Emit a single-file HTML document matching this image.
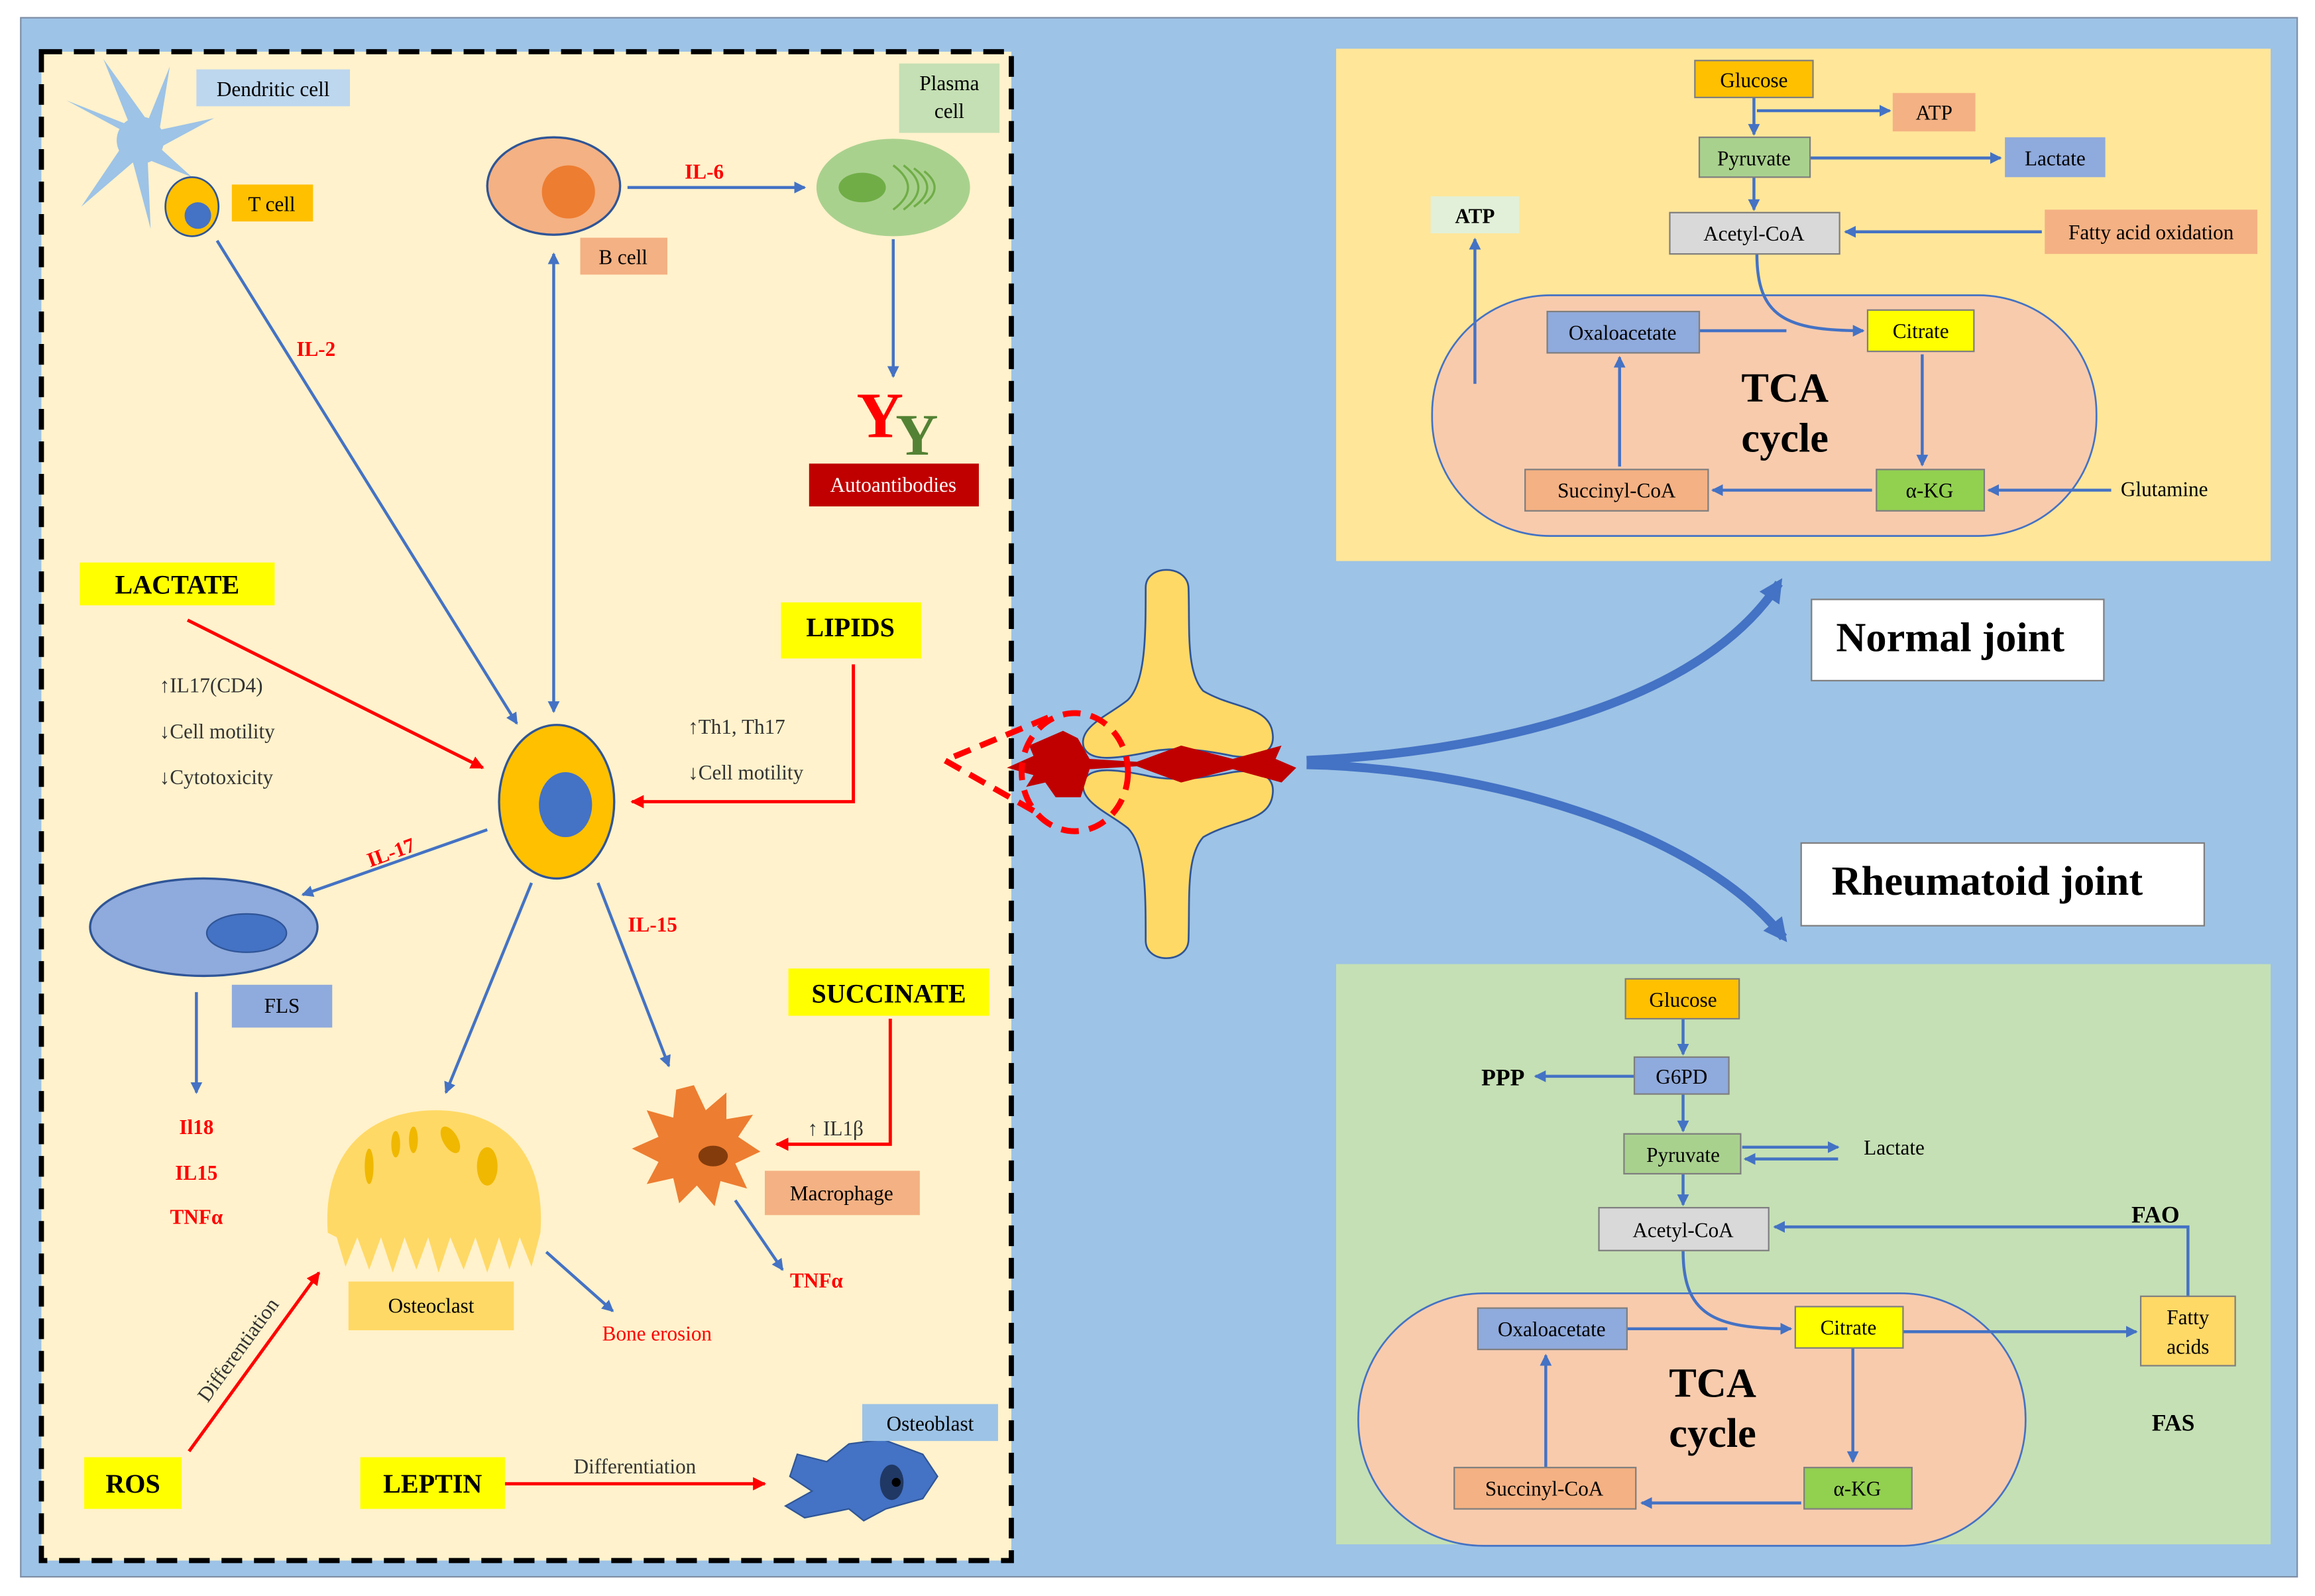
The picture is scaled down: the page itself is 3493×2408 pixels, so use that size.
<!DOCTYPE html>
<html><head><meta charset="utf-8"><style>
html,body{margin:0;padding:0;background:#fff;}
svg{display:block;}
text{font-family:"Liberation Serif",serif;}
</style></head><body>
<svg width="3493" height="2408" viewBox="0 0 1568 1081" xmlns="http://www.w3.org/2000/svg">
<defs>
<marker id="b" markerWidth="8" markerHeight="8" refX="7" refY="4" orient="auto" markerUnits="userSpaceOnUse"><path d="M0,0 L8,4 L0,8 z" fill="#4472c4"/></marker>
<marker id="bs" markerWidth="8" markerHeight="8" refX="1" refY="4" orient="auto" markerUnits="userSpaceOnUse"><path d="M8,0 L0,4 L8,8 z" fill="#4472c4"/></marker>
<marker id="r" markerWidth="9" markerHeight="9" refX="8" refY="4.5" orient="auto" markerUnits="userSpaceOnUse"><path d="M0,0 L9,4.5 L0,9 z" fill="#ff0000"/></marker>
<marker id="bb" markerWidth="16" markerHeight="16" refX="12" refY="8" orient="auto" markerUnits="userSpaceOnUse"><path d="M0,0 L16,8 L0,16 z" fill="#4472c4"/></marker>
</defs>
<rect x="0" y="0" width="1568" height="1081" fill="#fff"/>
<rect x="14" y="12" width="1542" height="1056" fill="#9dc3e6" stroke="#7f8fa6" stroke-width="1"/>
<rect x="28" y="35" width="657" height="1022" fill="#fff2cc" stroke="#000" stroke-width="3.5" stroke-dasharray="14,8"/>
<g stroke="#4472c4" stroke-width="2" fill="none">
<line x1="425" y1="127" x2="545" y2="127" marker-end="url(#b)"/>
<line x1="605" y1="162" x2="605" y2="255" marker-end="url(#b)"/>
<line x1="375" y1="172" x2="375" y2="482" marker-end="url(#b)" marker-start="url(#bs)"/>
<line x1="147" y1="163" x2="350" y2="490" marker-end="url(#b)"/>
<line x1="330" y1="562" x2="205" y2="606" marker-end="url(#b)"/>
<line x1="133" y1="672" x2="133" y2="740" marker-end="url(#b)"/>
<line x1="360" y1="598" x2="302" y2="740" marker-end="url(#b)"/>
<line x1="405" y1="598" x2="453" y2="722" marker-end="url(#b)"/>
<line x1="370" y1="848" x2="415" y2="888" marker-end="url(#b)"/>
<line x1="498" y1="813" x2="530" y2="860" marker-end="url(#b)"/>
</g>
<g stroke="#ff0000" stroke-width="2.2" fill="none">
<line x1="127" y1="420" x2="327" y2="520" marker-end="url(#r)"/>
<polyline points="578,450 578,543 428,543" marker-end="url(#r)"/>
<polyline points="603,690 603,775 526,775" marker-end="url(#r)"/>
<line x1="128" y1="983" x2="216" y2="862" marker-end="url(#r)"/>
<line x1="342" y1="1005" x2="518" y2="1005" marker-end="url(#r)"/>
</g>
<g fill="#9dc3e6">
<path d="M95,95 L45,68 L88,85 L70,40 L100,82 L115,45 L108,88 L145,80 L108,100 L130,120 L100,108 L102,155 L90,110 L55,140 L82,100 Z"/>
<circle cx="95" cy="95" r="16"/>
</g>
<ellipse cx="130" cy="140" rx="18" ry="20" fill="#ffc000" stroke="#2f5597" stroke-width="1.2"/>
<circle cx="134" cy="146" r="9" fill="#4472c4"/>
<rect x="133" y="47" width="104" height="25" fill="#bdd7ee"/><text x="185" y="65" font-size="14" text-anchor="middle">Dendritic cell</text>
<rect x="157" y="125" width="55" height="25" fill="#ffc000"/><text x="184" y="143" font-size="14" text-anchor="middle">T cell</text>
<ellipse cx="375" cy="126" rx="45" ry="33" fill="#f4b183" stroke="#2f5597" stroke-width="1.5"/>
<circle cx="385" cy="130" r="18" fill="#ed7d31"/>
<rect x="393" y="161" width="59" height="25" fill="#f4b183"/><text x="422" y="179" font-size="14" text-anchor="middle">B cell</text>
<text x="477" y="121" font-size="14" font-weight="bold" fill="#ff0000" text-anchor="middle">IL-6</text>
<ellipse cx="605" cy="127" rx="52" ry="33" fill="#a9d18e"/>
<ellipse cx="584" cy="127" rx="16" ry="10" fill="#70ad47"/>
<g stroke="#70ad47" stroke-width="1.5" fill="none"><path d="M605,112 q20,15 0,30"/><path d="M612,112 q20,15 0,30"/><path d="M619,114 q18,13 0,26"/><path d="M626,116 q14,11 0,22"/></g>
<rect x="609" y="43" width="68" height="47" fill="#c5e0b4"/><text x="643" y="61" font-size="14" text-anchor="middle">Plasma</text><text x="643" y="80" font-size="14" text-anchor="middle">cell</text>
<text x="596" y="296" font-size="44" font-weight="bold" fill="#ff0000" text-anchor="middle">Y</text>
<text x="621" y="308" font-size="40" font-weight="bold" fill="#548235" text-anchor="middle">Y</text>
<rect x="548" y="314" width="115" height="29" fill="#c00000"/><text x="605" y="333" font-size="14" fill="#fff" text-anchor="middle">Autoantibodies</text>
<text x="214" y="241" font-size="14" font-weight="bold" fill="#ff0000" text-anchor="middle">IL-2</text>
<ellipse cx="377" cy="543" rx="39" ry="52" fill="#ffc000" stroke="#2f5597" stroke-width="1.5"/>
<ellipse cx="383" cy="545" rx="18" ry="22" fill="#4472c4"/>
<rect x="54" y="381" width="132" height="29" fill="#ffff00"/><text x="120" y="402" font-size="18" font-weight="bold" text-anchor="middle">LACTATE</text>
<text x="108" y="469" font-size="14" fill="#333"><tspan font-weight="bold">↑</tspan>IL17(CD4)</text>
<text x="108" y="500" font-size="14" fill="#333"><tspan font-weight="bold">↓</tspan>Cell motility</text>
<text x="108" y="531" font-size="14" fill="#333"><tspan font-weight="bold">↓</tspan>Cytotoxicity</text>
<rect x="529" y="408" width="95" height="38" fill="#ffff00"/><text x="576" y="431" font-size="18" font-weight="bold" text-anchor="middle">LIPIDS</text>
<text x="466" y="497" font-size="14" fill="#333"><tspan font-weight="bold">↑</tspan>Th1, Th17</text>
<text x="466" y="528" font-size="14" fill="#333"><tspan font-weight="bold">↓</tspan>Cell motility</text>
<text x="265" y="582" font-size="14" font-weight="bold" fill="#ff0000" text-anchor="middle" transform="rotate(-20 265 578)">IL-17</text>
<ellipse cx="138" cy="628" rx="77" ry="33" fill="#8faadc" stroke="#2f5597" stroke-width="1.5"/>
<ellipse cx="167" cy="632" rx="27" ry="13" fill="#4472c4" stroke="#2f5597"/>
<rect x="157" y="667" width="68" height="29" fill="#8faadc"/><text x="191" y="686" font-size="14" text-anchor="middle">FLS</text>
<text x="133" y="768" font-size="14" font-weight="bold" fill="#ff0000" text-anchor="middle">Il18</text>
<text x="133" y="799" font-size="14" font-weight="bold" fill="#ff0000" text-anchor="middle">IL15</text>
<text x="133" y="829" font-size="14" font-weight="bold" fill="#ff0000" text-anchor="middle">TNFα</text>
<text x="442" y="631" font-size="14" font-weight="bold" fill="#ff0000" text-anchor="middle">IL-15</text>
<path d="M222,835 C218,780 250,752 295,752 C340,752 370,780 366,835 L360,858 L352,838 L345,860 L338,838 L330,862 L322,838 L314,860 L305,838 L297,862 L290,838 L282,860 L274,838 L266,862 L258,838 L250,860 L242,838 L234,858 L228,838 Z" fill="#ffd966"/>
<g fill="#f0b800"><ellipse cx="268" cy="775" rx="3" ry="9"/><ellipse cx="280" cy="772" rx="3" ry="9"/><ellipse cx="305" cy="772" rx="5" ry="10" transform="rotate(-30 305 772)"/><ellipse cx="330" cy="790" rx="7" ry="13"/><ellipse cx="250" cy="790" rx="3" ry="12"/></g>
<rect x="236" y="868" width="112" height="33" fill="#ffd966"/><text x="292" y="889" font-size="14" text-anchor="middle">Osteoclast</text>
<text x="445" y="908" font-size="14" fill="#ff0000" text-anchor="middle">Bone erosion</text>
<path d="M470,735 L478,752 L492,740 L492,758 L510,755 L500,770 L515,780 L498,788 L506,805 L488,800 L484,817 L472,803 L460,815 L456,798 L438,802 L446,787 L428,778 L446,770 L438,752 L456,757 L458,738 Z" fill="#ed7d31"/>
<ellipse cx="483" cy="783" rx="10" ry="7" fill="#843c0c"/>
<rect x="518" y="793" width="105" height="30" fill="#f4b183"/><text x="570" y="813" font-size="14" text-anchor="middle">Macrophage</text>
<rect x="534" y="656" width="136" height="32" fill="#ffff00"/><text x="602" y="679" font-size="18" font-weight="bold" text-anchor="middle">SUCCINATE</text>
<text x="547" y="769" font-size="14" fill="#333"><tspan font-weight="bold">↑</tspan> IL1β</text>
<text x="553" y="872" font-size="14" font-weight="bold" fill="#ff0000" text-anchor="middle">TNFα</text>
<rect x="57" y="987" width="66" height="35" fill="#ffff00"/><text x="90" y="1011" font-size="18" font-weight="bold" text-anchor="middle">ROS</text>
<text x="165" y="917" font-size="14" fill="#333" text-anchor="middle" transform="rotate(-54 165 917)">Differentiation</text>
<rect x="244" y="987" width="98" height="35" fill="#ffff00"/><text x="293" y="1011" font-size="18" font-weight="bold" text-anchor="middle">LEPTIN</text>
<text x="430" y="998" font-size="14" fill="#333" text-anchor="middle">Differentiation</text>
<path d="M540,985 L560,990 L575,978 L598,975 L625,985 L635,1000 L625,1015 L600,1022 L585,1030 L575,1022 L545,1028 L532,1020 L550,1010 L535,1000 Z" fill="#4472c4" stroke="#2f5597"/>
<ellipse cx="604" cy="1004" rx="8" ry="12" fill="#203864"/><circle cx="607" cy="1004" r="3" fill="#000"/>
<rect x="584" y="951" width="92" height="25" fill="#9dc3e6"/><text x="630" y="969" font-size="14" text-anchor="middle">Osteoblast</text>
<!-- Joint -->
<path d="M776,398 C776,382 804,382 805,398 C806,425 803,455 815,468 C835,480 860,478 862,497 C864,512 848,514 835,512 C815,508 795,505 775,510 C755,514 738,516 734,506 C730,492 752,484 764,474 C776,462 776,430 776,398 Z" fill="#ffd966" stroke="#2f5597" stroke-width="1.2"/>
<path d="M776,637 C776,653 804,653 805,637 C806,610 803,580 815,567 C835,555 860,557 862,538 C864,523 848,521 835,523 C815,527 795,530 775,525 C755,521 738,519 734,529 C730,543 752,551 764,561 C776,573 776,605 776,637 Z" fill="#ffd966" stroke="#2f5597" stroke-width="1.2"/>
<path d="M682,520 L700,512 L697,505 L720,495 L730,500 L738,514 L770,516 L800,505 L835,514 L868,505 L864,514 L878,520 L868,530 L835,521 L800,530 L770,519 L738,521 L732,540 L715,540 L708,530 L695,533 L700,525 Z" fill="#c00000"/>
<ellipse cx="728" cy="523" rx="36" ry="40" fill="none" stroke="#ff0000" stroke-width="4" stroke-dasharray="12,7"/>
<path d="M710,486 L640,515 L705,552" fill="none" stroke="#ff0000" stroke-width="4" stroke-dasharray="12,7"/>
<path d="M885,515 C1000,510 1150,480 1205,395" fill="none" stroke="#4472c4" stroke-width="6" marker-end="url(#bb)"/>
<path d="M885,518 C1000,520 1150,560 1208,635" fill="none" stroke="#4472c4" stroke-width="6" marker-end="url(#bb)"/>
<rect x="1227" y="406" width="198" height="55" fill="#fff" stroke="#7f7f7f"/><text x="1321" y="441" font-size="28" font-weight="bold" text-anchor="middle">Normal joint</text>
<rect x="1220" y="571" width="273" height="56" fill="#fff" stroke="#7f7f7f"/><text x="1346" y="606" font-size="28" font-weight="bold" text-anchor="middle">Rheumatoid joint</text>
<rect x="905" y="33" width="633" height="347" fill="#ffe699"/>
<rect x="970" y="200" width="450" height="163" rx="80" fill="#f8cbad" stroke="#4472c4" stroke-width="1.2"/>
<g stroke="#4472c4" stroke-width="2" fill="none">
<line x1="1188" y1="66" x2="1188" y2="91" marker-end="url(#b)"/>
<line x1="1190" y1="75" x2="1280" y2="75" marker-end="url(#b)"/>
<line x1="1226" y1="107" x2="1355" y2="107" marker-end="url(#b)"/>
<line x1="1188" y1="120" x2="1188" y2="142" marker-end="url(#b)"/>
<line x1="1383" y1="157" x2="1250" y2="157" marker-end="url(#b)"/>
<path d="M1190,172 C1190,215 1210,224 1262,224" marker-end="url(#b)"/>
<line x1="1151" y1="224" x2="1210" y2="224"/>
<line x1="1302" y1="240" x2="1302" y2="315" marker-end="url(#b)"/>
<line x1="1268" y1="332" x2="1160" y2="332" marker-end="url(#b)"/>
<line x1="1097" y1="316" x2="1097" y2="242" marker-end="url(#b)"/>
<line x1="1430" y1="332" x2="1347" y2="332" marker-end="url(#b)"/>
<line x1="999" y1="260" x2="999" y2="162" marker-end="url(#b)"/>
</g>
<g stroke-width="1" stroke="#7f7f7f">
<rect x="1148" y="41" width="80" height="25" fill="#ffc000"/>
<rect x="1282" y="63" width="56" height="26" fill="#f4b183" stroke="none"/>
<rect x="1151" y="93" width="75" height="27" fill="#a9d18e"/>
<rect x="1358" y="93" width="68" height="27" fill="#8faadc" stroke="none"/>
<rect x="1131" y="144" width="115" height="28" fill="#d9d9d9"/>
<rect x="1385" y="142" width="144" height="30" fill="#f4b183" stroke="none"/>
<rect x="969" y="133" width="60" height="25" fill="#e2f0d9" stroke="none"/>
<rect x="1048" y="211" width="103" height="28" fill="#8faadc"/>
<rect x="1265" y="210" width="72" height="28" fill="#ffff00"/>
<rect x="1033" y="318" width="124" height="28" fill="#f4b183"/>
<rect x="1271" y="318" width="73" height="28" fill="#92d050"/>
</g>
<g font-size="14" text-anchor="middle">
<text x="1188" y="59">Glucose</text><text x="1310" y="81">ATP</text><text x="1188" y="112">Pyruvate</text>
<text x="1392" y="112">Lactate</text><text x="1188" y="163">Acetyl-CoA</text><text x="1457" y="162">Fatty acid oxidation</text>
<text x="999" y="151" font-weight="bold">ATP</text><text x="1099" y="230">Oxaloacetate</text><text x="1301" y="229">Citrate</text>
<text x="1095" y="337">Succinyl-CoA</text><text x="1307" y="337">α-KG</text><text x="1466" y="336">Glutamine</text>
<text x="1209" y="272" font-size="28" font-weight="bold">TCA</text><text x="1209" y="306" font-size="28" font-weight="bold">cycle</text>
</g>
<rect x="905" y="653" width="633" height="393" fill="#c5e0b4"/>
<rect x="920" y="876" width="452" height="171" rx="85" fill="#f8cbad" stroke="#4472c4" stroke-width="1.2"/>
<g stroke="#4472c4" stroke-width="2" fill="none">
<line x1="1140" y1="690" x2="1140" y2="714" marker-end="url(#b)"/>
<line x1="1107" y1="729" x2="1040" y2="729" marker-end="url(#b)"/>
<line x1="1140" y1="741" x2="1140" y2="766" marker-end="url(#b)"/>
<line x1="1180" y1="777" x2="1245" y2="777" marker-end="url(#b)"/>
<line x1="1245" y1="785" x2="1182" y2="785" marker-end="url(#b)"/>
<line x1="1140" y1="795" x2="1140" y2="816" marker-end="url(#b)"/>
<polyline points="1482,878 1482,831 1202,831" marker-end="url(#b)"/>
<path d="M1140,847 C1140,890 1160,900 1213,900" marker-end="url(#b)"/>
<line x1="1102" y1="900" x2="1170" y2="900"/>
<line x1="1289" y1="902" x2="1447" y2="902" marker-end="url(#b)"/>
<line x1="1255" y1="913" x2="1255" y2="990" marker-end="url(#b)"/>
<line x1="1220" y1="1018" x2="1112" y2="1018" marker-end="url(#b)"/>
<line x1="1047" y1="994" x2="1047" y2="918" marker-end="url(#b)"/>
</g>
<g stroke-width="1" stroke="#7f7f7f">
<rect x="1101" y="663" width="77" height="27" fill="#ffc000"/>
<rect x="1107" y="716" width="64" height="25" fill="#8faadc"/>
<rect x="1100" y="768" width="79" height="27" fill="#a9d18e"/>
<rect x="1083" y="818" width="115" height="29" fill="#d9d9d9"/>
<rect x="1450" y="878" width="64" height="47" fill="#ffd966"/>
<rect x="1001" y="886" width="101" height="28" fill="#8faadc"/>
<rect x="1216" y="885" width="73" height="28" fill="#ffff00"/>
<rect x="985" y="994" width="123" height="28" fill="#f4b183"/>
<rect x="1222" y="994" width="73" height="28" fill="#92d050"/>
</g>
<g font-size="14" text-anchor="middle">
<text x="1140" y="682">Glucose</text><text x="1139" y="734">G6PD</text><text x="1018" y="735" font-size="16" font-weight="bold">PPP</text>
<text x="1140" y="787">Pyruvate</text><text x="1283" y="782">Lactate</text><text x="1140" y="838">Acetyl-CoA</text>
<text x="1460" y="828" font-size="16" font-weight="bold">FAO</text>
<text x="1482" y="897">Fatty</text><text x="1482" y="917">acids</text>
<text x="1472" y="969" font-size="16" font-weight="bold">FAS</text>
<text x="1051" y="905">Oxaloacetate</text><text x="1252" y="904">Citrate</text>
<text x="1046" y="1013">Succinyl-CoA</text><text x="1258" y="1013">α-KG</text>
<text x="1160" y="946" font-size="28" font-weight="bold">TCA</text><text x="1160" y="980" font-size="28" font-weight="bold">cycle</text>
</g>
</svg>
</body></html>
